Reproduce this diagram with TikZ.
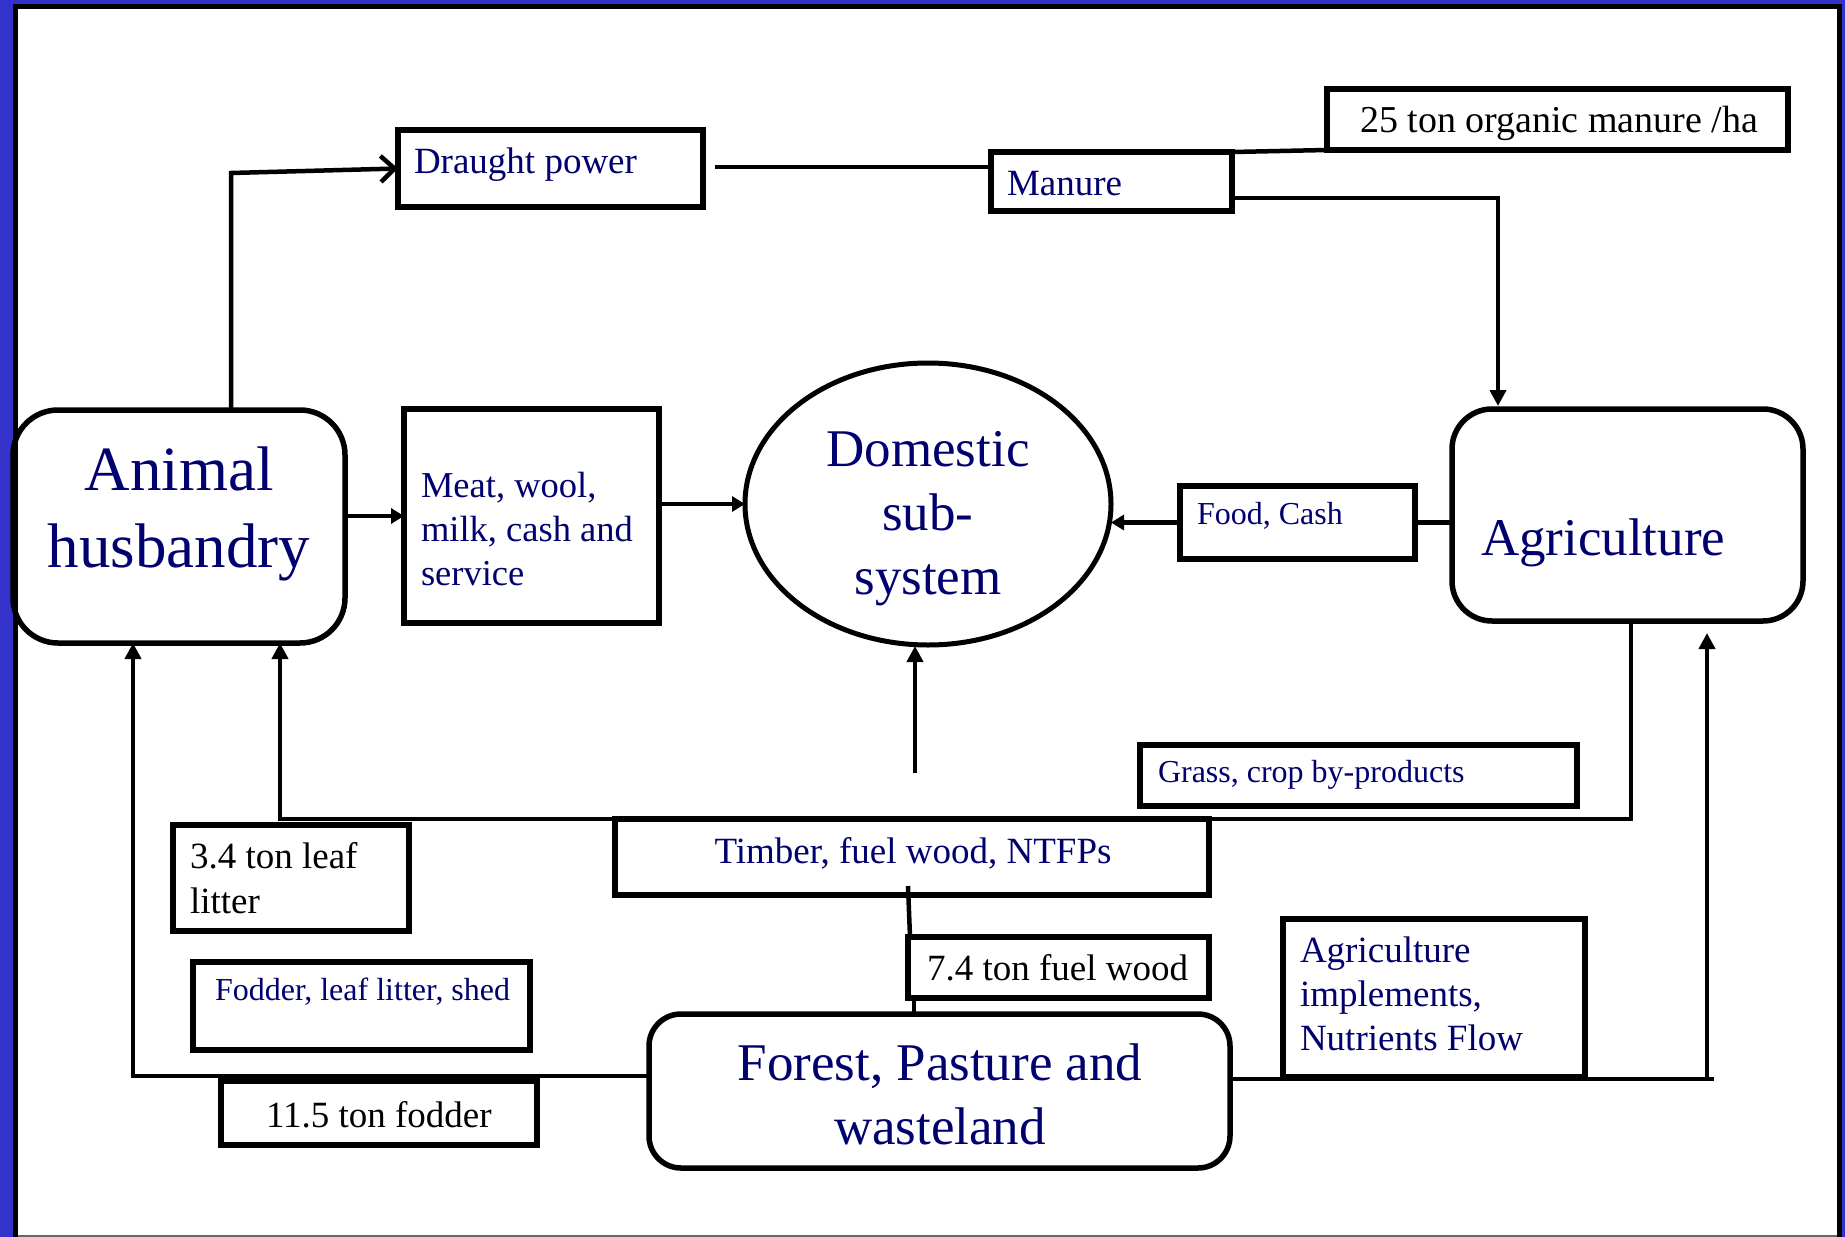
\documentclass[tikz,border=0pt]{standalone}
\usepackage{fontspec}
\setmainfont{Liberation Serif}
\usetikzlibrary{arrows.meta,shapes.geometric}
\definecolor{txtblue}{RGB}{0,0,110}
\definecolor{bgblue}{RGB}{51,51,204}
\newcommand\myfs[1]{\fontsize{#1}{#1}\selectfont}
\begin{document}
\begin{tikzpicture}[x=1pt,y=-1pt,
  box/.style={draw,rectangle,line width=5.5pt,inner sep=0pt,outer sep=0pt},
  rbox/.style={box,rounded corners=#1},
  conn/.style={line width=4.5pt},
  tipv/.style={-{Triangle[length=16pt,width=16pt]}},
  tiph/.style={-{Triangle[length=13pt,width=15pt]}},
  tipb/.style={-{Straight Barb[length=14pt,width=26pt]}},
  lbl/.style={inner sep=0pt,outer sep=0pt,text=txtblue},
  blk/.style={inner sep=0pt,outer sep=0pt,text=black}]
\useasboundingbox (0,0) rectangle (1845,1237);
\fill[bgblue] (0,0) rectangle (1845,1237);
\fill[black] (13,4) rectangle (1842,1237);
\fill[white] (18,9) rectangle (1837,1235);
\fill[black!60] (18,1235) rectangle (1837,1237);

% boxes
\node[rbox=45pt,minimum width=332pt,minimum height=233pt] (animal) at (179,526.5) {};
\node[box,minimum width=255pt,minimum height=214pt] (meat) at (531.5,516) {};
\node[draw,ellipse,line width=5pt,inner sep=0pt,outer sep=0pt,minimum width=366pt,minimum height=282pt] (dom) at (928,504) {};
\node[box,minimum width=235pt,minimum height=73pt] (foodcash) at (1297.5,522.5) {};
\node[rbox=40pt,minimum width=351pt,minimum height=212pt] (agri) at (1627.5,515) {};
\node[box,minimum width=305pt,minimum height=77pt] (draught) at (550.5,168.5) {};
\node[box,minimum width=241pt,minimum height=59pt] (manure) at (1111.5,181.5) {};
\node[box,minimum width=461pt,minimum height=61pt] (organic) at (1557.5,119.5) {};
\node[box,minimum width=437pt,minimum height=61pt] (grass) at (1358.5,775.5) {};
\node[box,minimum width=594pt,minimum height=76pt] (timber) at (912,857) {};
\node[box,minimum width=236pt,minimum height=106pt] (leaf) at (291,878) {};
\node[box,minimum width=337pt,minimum height=88pt] (fodderbox) at (361.5,1006) {};
\node[box,minimum width=301pt,minimum height=61pt] (fuel) at (1058.5,967.5) {};
\node[rbox=32pt,minimum width=581pt,minimum height=154pt] (forest) at (939.5,1091) {};
\node[box,minimum width=316pt,minimum height=64pt] (tonfodder) at (379,1113) {};
\node[box,minimum width=302pt,minimum height=158pt] (implements) at (1434,998) {};

% texts
\node[lbl,anchor=base,font=\myfs{63}] (t-animal1) at (179,490) {Animal};
\node[lbl,anchor=base,font=\myfs{63}] (t-animal2) at (179,567) {husbandry};
\node[lbl,anchor=base west,font=\myfs{36.5}] (t-meat1) at (421,497) {Meat, wool,};
\node[lbl,anchor=base west,font=\myfs{36.5}] (t-meat2) at (421,541) {milk, cash and};
\node[lbl,anchor=base west,font=\myfs{36.5}] (t-meat3) at (421,585) {service};
\node[lbl,anchor=base,font=\myfs{53}] (t-dom1) at (928,466) {Domestic};
\node[lbl,anchor=base,font=\myfs{53}] (t-dom2) at (928,530) {sub-};
\node[lbl,anchor=base,font=\myfs{53}] (t-dom3) at (928,594) {system};
\node[lbl,anchor=base west,font=\myfs{32}] (t-food) at (1197,524) {Food, Cash};
\node[lbl,anchor=base west,font=\myfs{53}] (t-agri) at (1481,555) {Agriculture};
\node[lbl,anchor=base west,font=\myfs{37}] (t-draught) at (414,173) {Draught power};
\node[lbl,anchor=base west,font=\myfs{37}] (t-manure) at (1007,195) {Manure};
\node[blk,anchor=base west,font=\myfs{38}] (t-organic) at (1360,132) {25 ton organic manure /ha};
\node[lbl,anchor=base west,font=\myfs{32}] (t-grass) at (1158,782) {Grass, crop by-products};
\node[lbl,anchor=base,font=\myfs{37}] (t-timber) at (913,863) {Timber, fuel wood, NTFPs};
\node[blk,anchor=base west,font=\myfs{37}] (t-leaf1) at (190,868) {3.4 ton leaf};
\node[blk,anchor=base west,font=\myfs{37}] (t-leaf2) at (190,913) {litter};
\node[lbl,anchor=base west,font=\myfs{32}] (t-fodder) at (215,1000) {Fodder, leaf litter, shed};
\node[blk,anchor=base west,font=\myfs{37}] (t-fuel) at (927,980) {7.4 ton fuel wood};
\node[lbl,anchor=base,font=\myfs{53}] (t-forest1) at (940,1080) {Forest, Pasture and};
\node[lbl,anchor=base,font=\myfs{53}] (t-forest2) at (940,1144) {wasteland};
\node[blk,anchor=base west,font=\myfs{37}] (t-tonfodder) at (266,1127) {11.5 ton fodder};
\node[lbl,anchor=base west,font=\myfs{37}] (t-impl1) at (1300,962) {Agriculture};
\node[lbl,anchor=base west,font=\myfs{37}] (t-impl2) at (1300,1006) {implements,};
\node[lbl,anchor=base west,font=\myfs{37}] (t-impl3) at (1300,1050) {Nutrients Flow};

% connectors
\draw[conn,tipb] ([xshift=52pt]animal.north) -- ++(0,-237) -- (draught.west);
\draw[conn] ([xshift=12pt,yshift=1.5pt]draught.east) -- ([yshift=1.5pt]manure.west |- draught.east);
\draw[conn] (manure.north east) -- (organic.south west);
\draw[conn,tipv] ([yshift=-16.5pt]manure.east) -| ([xshift=-129.5pt,yshift=3pt]agri.north);
\draw[conn,tiph] (animal.east |- meat.west) -- (meat.west);
\draw[conn,tiph] (meat.east |- dom.west) -- (dom.west);
\draw[conn,tiph] (foodcash.west) -- (dom.east |- foodcash.west);
\draw[conn] (agri.west |- foodcash.east) -- (foodcash.east);
\draw[conn,tipv] ([xshift=-13pt,yshift=-128pt]dom.south) -- ([xshift=-13pt,yshift=-1pt]dom.south);
\draw[conn,tipv] ([xshift=3.5pt]agri.south) |- (timber.north) -| ([xshift=101pt]animal.south);
\draw[conn,tipv] ([yshift=15pt]forest.west) -| ([xshift=-46pt]animal.south);
\draw[conn] ([yshift=12pt]forest.east) coordinate (fr) -- ++(484,0);
\draw[conn,tipv] ([xshift=477pt]fr) -- ([xshift=79.5pt,yshift=-12pt]agri.south);
\draw[conn] ([xshift=-4pt,yshift=9pt]timber.south) -- ([xshift=2pt]fuel.north west);
\draw[conn] ([xshift=6pt]fuel.south west) -- ([xshift=6pt]fuel.south west |- forest.north);
\end{tikzpicture}
\end{document}
